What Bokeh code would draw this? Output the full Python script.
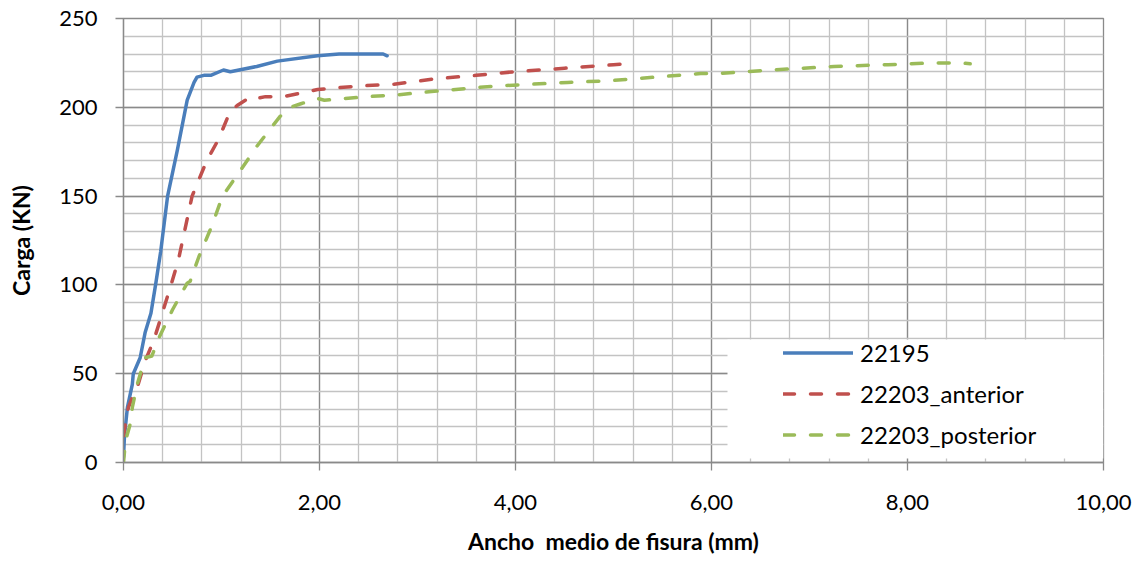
from bokeh.plotting import figure
from bokeh.models import (Range1d, SingleIntervalTicker, CustomJSTickFormatter,
                          Legend, LegendItem, BoxAnnotation)
from bokeh.embed import file_html
from bokeh.resources import INLINE

# ---- data ----
x_22195 = [0.00, 0.01, 0.04, 0.09, 0.10, 0.17, 0.22, 0.28, 0.33, 0.38, 0.45, 0.55,
           0.65, 0.72, 0.75, 0.82, 0.89, 1.02, 1.09, 1.36, 1.57, 1.98, 2.20, 2.42,
           2.65, 2.69]
y_22195 = [3, 15, 31, 44, 50, 59, 73, 84, 101, 119, 150, 176,
           204, 214, 217, 218, 218, 221, 220, 223, 226, 229, 230, 230,
           230, 229]

x_anterior = [0.00, 0.02, 0.05, 0.10, 0.15, 0.22, 0.31, 0.39, 0.48, 0.56, 0.70, 0.85,
              0.97, 1.09, 1.16, 1.30, 1.36, 1.45, 1.63, 1.81, 1.98, 2.40, 2.76, 3.17,
              3.60, 3.98, 4.50, 5.00, 5.22]
y_anterior = [15, 22, 31, 38, 44, 57, 69, 83, 99, 114, 150, 170,
              182, 198, 201, 206, 205, 206, 206, 208, 210, 212, 213, 216,
              218, 220, 222, 224, 225]

x_posterior = [0.00, 0.02, 0.07, 0.09, 0.14, 0.22, 0.29, 0.36, 0.50, 0.65, 0.68, 0.77,
               0.90, 1.01, 1.20, 1.36, 1.50, 1.60, 1.70, 1.81, 1.98, 2.05, 2.49, 2.79,
               3.17, 3.80, 4.53, 4.97, 5.89, 6.06, 6.60, 7.25, 7.80, 8.27, 8.54, 8.64]
y_posterior = [0, 12, 22, 31, 44, 59, 60, 70, 86, 101, 102, 116,
               133, 150, 165, 178, 188, 195, 200, 202, 205, 204, 206, 207,
               209, 212, 214, 215, 219, 219, 221, 223, 224, 225, 225, 224.5]

series_names = ["22195", "22203_anterior", "22203_posterior"]
x_title = "Ancho \u00a0medio de fisura (mm)"
y_title = "Carga (KN)"

FONT = "Lato"
MAJOR = "#8a8a8a"
MINOR = "#c3c3c3"

p = figure(width=1143, height=563,
           x_range=Range1d(0, 10), y_range=Range1d(0, 250),
           output_backend="svg", toolbar_location=None,
           min_border_left=123, min_border_right=40,
           min_border_top=18, min_border_bottom=101,
           background_fill_color="white", border_fill_color="white")
p.outline_line_color = MAJOR
p.outline_line_width = 1.3

# axes
p.xaxis.ticker = SingleIntervalTicker(interval=2, num_minor_ticks=5)
p.yaxis.ticker = SingleIntervalTicker(interval=50, num_minor_ticks=5)
p.xaxis.formatter = CustomJSTickFormatter(code="return tick.toFixed(2).replace('.', ',');")
for ax in (p.xaxis, p.yaxis):
    ax.axis_line_color = MAJOR
    ax.axis_line_width = 1.3
    ax.major_tick_line_color = MAJOR
    ax.major_tick_line_width = 1.3
    ax.major_tick_in = 0
    ax.major_tick_out = 8
    ax.minor_tick_line_color = None
    ax.major_label_text_font = FONT
    ax.major_label_text_font_size = "22px"
    ax.major_label_text_color = "black"
    ax.axis_label_text_font = FONT
    ax.axis_label_text_font_style = "bold"
    ax.axis_label_text_font_size = "23px"
    ax.axis_label_text_color = "black"
p.xaxis.axis_label = x_title
p.yaxis.axis_label = y_title
p.xaxis.major_label_standoff = 24
p.xaxis.axis_label_standoff = 14
p.yaxis.major_label_standoff = 18
p.yaxis.axis_label_standoff = 21

# grids
for g in (p.xgrid, p.ygrid):
    g.grid_line_color = MAJOR
    g.grid_line_width = 1.3
    g.minor_grid_line_color = MINOR
    g.minor_grid_line_width = 1.3

# series
r1 = p.line(x_22195, y_22195, line_color="#4A7EBB", line_width=3.5,
            line_join="round", line_cap="round")
r2 = p.line(x_anterior, y_anterior, line_color="#C0504D", line_width=3.5,
            line_dash="11 16", line_cap="round", line_join="round")
r3 = p.line(x_posterior, y_posterior, line_color="#9BBB59", line_width=3.5,
            line_dash="11 16", line_cap="round", line_join="round")

# legend box (white panel behind legend)
box = BoxAnnotation(left=604, bottom=4, top=123,
                    left_units="screen", bottom_units="screen", top_units="screen",
                    fill_color="white", fill_alpha=1.0, line_color=None)
p.add_layout(box)

legend = Legend(items=[LegendItem(label=series_names[0], renderers=[r1]),
                       LegendItem(label=series_names[1], renderers=[r2]),
                       LegendItem(label=series_names[2], renderers=[r3])],
                location=(660, 13), padding=0, spacing=12,
                glyph_width=70, glyph_height=27, label_height=27,
                label_standoff=7,
                label_text_font=FONT, label_text_font_size="24px",
                label_text_color="black",
                border_line_color=None, background_fill_alpha=0.0)
p.add_layout(legend)

open("out.html", "w").write(file_html(p, INLINE))
